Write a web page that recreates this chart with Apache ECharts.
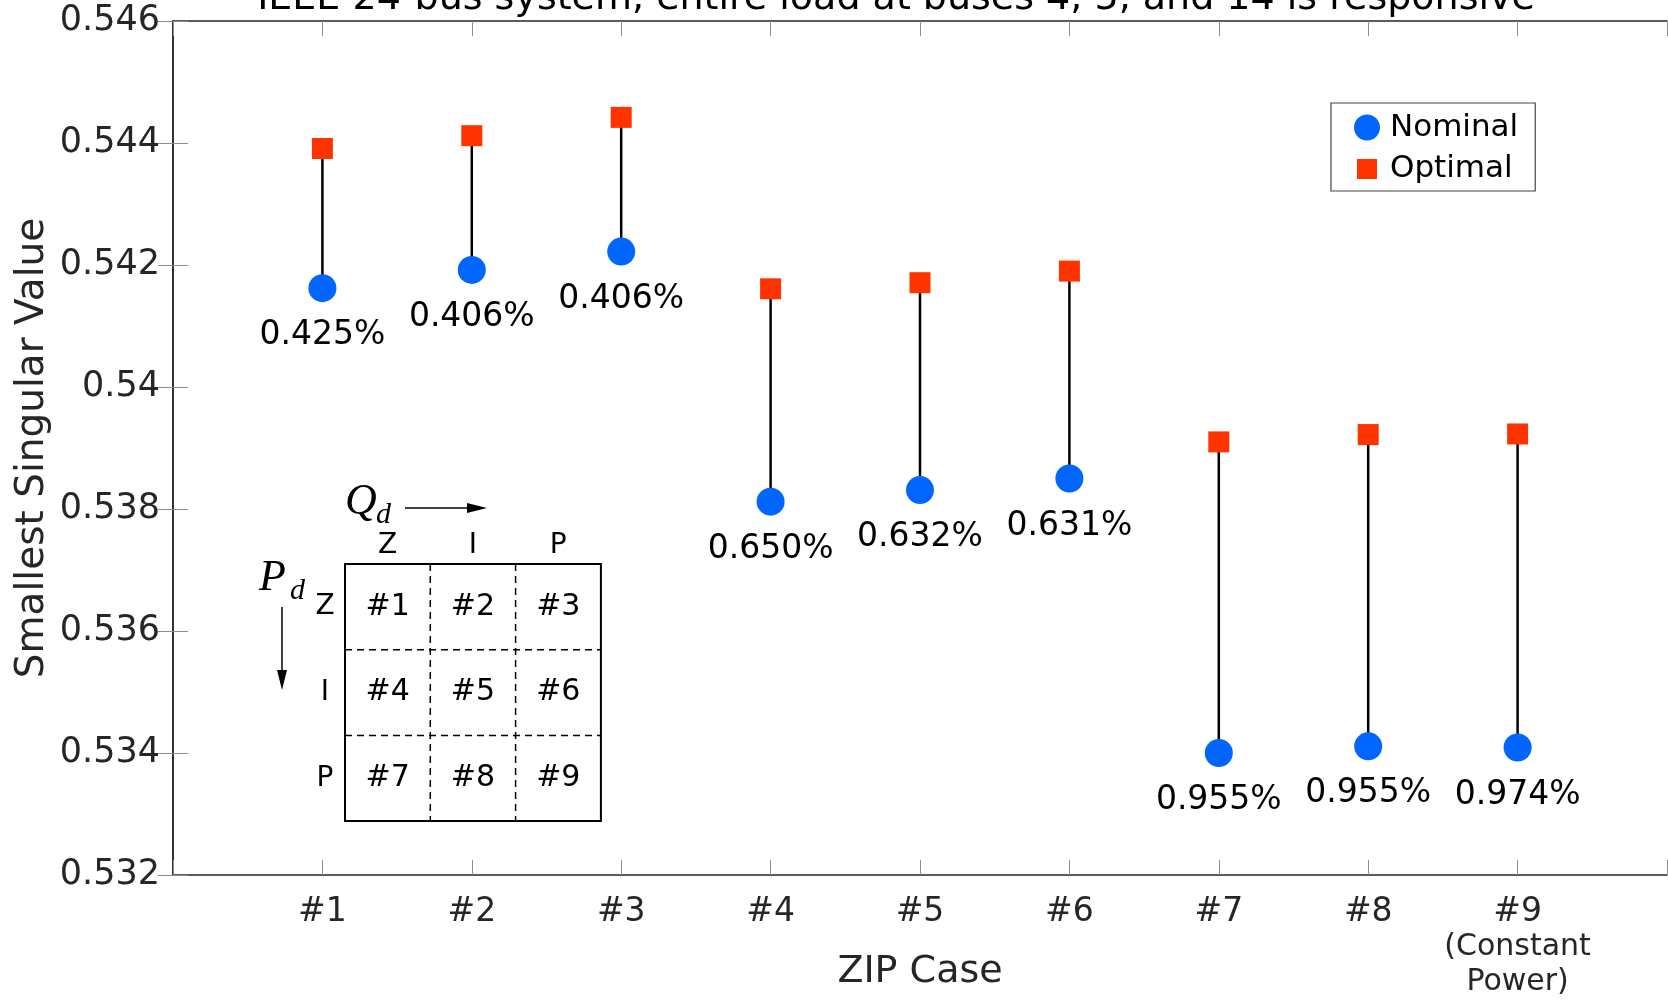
<!DOCTYPE html>
<html>
<head>
<meta charset="utf-8">
<script src="https://cdn.jsdelivr.net/npm/echarts@6/dist/echarts.min.js"></script>
<style>
html,body{margin:0;padding:0;background:#fff;}
#chart{width:1668px;height:1000px;}
</style>
</head>
<body>
<div id="chart"></div>
<script>
const titleText = 'IEEE 24-bus system, entire load at buses 4, 5, and 14 is responsive';
const categories = ['#1', '#2', '#3', '#4', '#5', '#6', '#7', '#8', '#9'];
const categorySubLabels = ['', '', '', '', '', '', '', '', '(Constant\nPower)'];
const nominal = [0.54162, 0.54192, 0.54222, 0.53812, 0.53831, 0.53850, 0.53400, 0.53411, 0.53409];
const optimal = [0.54391, 0.54412, 0.54442, 0.54161, 0.54171, 0.54190, 0.53910, 0.53922, 0.53923];
const pctLabels = ['0.425%', '0.406%', '0.406%', '0.650%', '0.632%', '0.631%', '0.955%', '0.955%', '0.974%'];
const yMin = 0.532, yMax = 0.546, yStep = 0.002;
const insetCols = ['Z', 'I', 'P'];
const insetRows = ['Z', 'I', 'P'];

const FONT = '"DejaVu Sans", sans-serif';
const BLUE = '#0066ff';
const RED = '#ff3300';
const AXIS = '#262626';

const chart = echarts.init(document.getElementById('chart'));

const stemData = categories.map((c, i) => [i + 1, nominal[i], optimal[i]]);
const nomData = categories.map((c, i) => [i + 1, nominal[i]]);
const optData = categories.map((c, i) => [i + 1, optimal[i]]);

// Inset diagram geometry (annotation, pixel based)
const bx = 345, by = 564, cw = 85.3, ch = 85.7;
const inset = [];
inset.push({type: 'rect', shape: {x: bx, y: by, width: cw * 3, height: ch * 3},
  style: {fill: 'none', stroke: '#000', lineWidth: 2}, z: 50});
for (let k = 1; k < 3; k++) {
  inset.push({type: 'line', shape: {x1: bx + cw * k, y1: by, x2: bx + cw * k, y2: by + ch * 3},
    style: {stroke: '#000', lineWidth: 1.5, lineDash: [7, 5]}, z: 50});
  inset.push({type: 'line', shape: {x1: bx, y1: by + ch * k, x2: bx + cw * 3, y2: by + ch * k},
    style: {stroke: '#000', lineWidth: 1.5, lineDash: [7, 5]}, z: 50});
}
for (let r = 0; r < 3; r++) {
  for (let c = 0; c < 3; c++) {
    inset.push({type: 'text', x: bx + cw * (c + 0.5), y: by + ch * (r + 0.5),
      style: {text: categories[r * 3 + c], font: '30px ' + FONT, fill: '#000', align: 'center', verticalAlign: 'middle'}, z: 51});
  }
}
insetCols.forEach((t, c) => inset.push({type: 'text', x: bx + cw * (c + 0.5), y: 546,
  style: {text: t, font: '28px ' + FONT, fill: '#000', align: 'center', verticalAlign: 'middle'}, z: 51}));
insetRows.forEach((t, r) => inset.push({type: 'text', x: 325, y: by + ch * (r + 0.5),
  style: {text: t, font: '28px ' + FONT, fill: '#000', align: 'center', verticalAlign: 'middle'}, z: 51}));
// Q_d label and arrow
inset.push({type: 'text', x: 345, y: 524, style: {text: 'Q', font: 'italic 44px "Liberation Serif", serif', fill: '#000', align: 'left', verticalAlign: 'bottom'}, z: 51});
inset.push({type: 'text', x: 376, y: 530, style: {text: 'd', font: 'italic 30px "Liberation Serif", serif', fill: '#000', align: 'left', verticalAlign: 'bottom'}, z: 51});
inset.push({type: 'line', shape: {x1: 405, y1: 508, x2: 470, y2: 508}, style: {stroke: '#000', lineWidth: 1.5}, z: 51});
inset.push({type: 'polygon', shape: {points: [[467, 503], [487, 508], [467, 513]]}, style: {fill: '#000'}, z: 51});
// P_d label and arrow
inset.push({type: 'text', x: 259, y: 600, style: {text: 'P', font: 'italic 44px "Liberation Serif", serif', fill: '#000', align: 'left', verticalAlign: 'bottom'}, z: 51});
inset.push({type: 'text', x: 290, y: 606, style: {text: 'd', font: 'italic 30px "Liberation Serif", serif', fill: '#000', align: 'left', verticalAlign: 'bottom'}, z: 51});
inset.push({type: 'line', shape: {x1: 282, y1: 607, x2: 282, y2: 673}, style: {stroke: '#000', lineWidth: 1.5}, z: 51});
inset.push({type: 'polygon', shape: {points: [[277, 670], [282, 690], [287, 670]]}, style: {fill: '#000'}, z: 51});
// Title (partly cut off at the top as in the reference)
inset.push({type: 'text', x: 896, y: 18, style: {text: titleText, font: '38px ' + FONT, fill: '#000', align: 'center', verticalAlign: 'bottom'}, z: 60});

const tickStyle = {show: true, inside: true, length: 15, lineStyle: {color: '#8c8c8c', width: 1}};
const lineStyleAxis = {show: true, lineStyle: {color: AXIS, width: 1.5}};

const option = {
  backgroundColor: '#fff',
  animation: false,
  grid: {left: 173, top: 21, right: 1, bottom: 125, containLabel: false, outerBoundsMode: 'none'},
  xAxis: [{
    type: 'value', min: 0, max: 10, interval: 1, position: 'bottom',
    name: 'ZIP Case', nameLocation: 'middle', nameGap: 78, nameMoveOverlap: false,
    nameTextStyle: {fontSize: 38, color: AXIS, fontFamily: FONT},
    axisLine: lineStyleAxis, axisTick: tickStyle, splitLine: {show: false},
    axisLabel: {
      margin: 19, color: AXIS, fontFamily: FONT, fontSize: 33,
      formatter: function (v) {
        const i = Math.round(v) - 1;
        if (i < 0 || i >= categories.length) return '';
        if (categorySubLabels[i]) return '{a|' + categories[i] + '}\n{b|' + categorySubLabels[i].split('\n').join('}\n{b|') + '}';
        return '{a|' + categories[i] + '}';
      },
      rich: {
        a: {fontSize: 33, fontFamily: FONT, color: AXIS, lineHeight: 36},
        b: {fontSize: 30, fontFamily: FONT, color: AXIS, lineHeight: 35}
      }
    }
  }, {
    type: 'value', min: 0, max: 10, interval: 1, position: 'top',
    axisLine: lineStyleAxis, axisTick: tickStyle, axisLabel: {show: false}, splitLine: {show: false}
  }],
  yAxis: [{
    type: 'value', min: yMin, max: yMax, interval: yStep, position: 'left',
    name: 'Smallest Singular Value', nameLocation: 'middle', nameGap: 121, nameRotate: 90, nameMoveOverlap: false,
    nameTextStyle: {fontSize: 39, color: AXIS, fontFamily: FONT},
    axisLine: lineStyleAxis, axisTick: tickStyle, splitLine: {show: false},
    axisLabel: {margin: 13, color: AXIS, fontFamily: FONT, fontSize: 35,
      formatter: function (v) { return String(parseFloat(v.toFixed(3))); }}
  }, {
    type: 'value', min: yMin, max: yMax, interval: yStep, position: 'right',
    axisLine: lineStyleAxis, axisTick: tickStyle, axisLabel: {show: false}, splitLine: {show: false}
  }],
  legend: {
    orient: 'vertical', left: 1331, top: 103,
    padding: [9, 17, 6, 20], itemGap: 10, itemWidth: 26, itemHeight: 26,
    backgroundColor: '#fff', borderColor: '#444', borderWidth: 1.2,
    textStyle: {fontSize: 31, color: '#000', fontFamily: FONT, padding: [0, 0, 0, 5]},
    data: [
      {name: 'Nominal', icon: 'circle'},
      {name: 'Optimal', icon: 'rect', itemStyle: {borderColor: '#fff', borderWidth: 6}}
    ]
  },
  series: [{
    type: 'custom', name: 'stem', silent: true, z: 1,
    data: stemData,
    renderItem: function (params, api) {
      const p1 = api.coord([api.value(0), api.value(1)]);
      const p2 = api.coord([api.value(0), api.value(2)]);
      return {type: 'line', shape: {x1: p1[0], y1: p1[1], x2: p2[0], y2: p2[1]},
        style: {stroke: '#000', lineWidth: 2.5}};
    }
  }, {
    type: 'scatter', name: 'Nominal', symbol: 'circle', symbolSize: 28, z: 3,
    itemStyle: {color: BLUE, opacity: 1},
    data: nomData,
    label: {show: true, position: 'bottom', distance: 17, fontSize: 33, color: '#000', fontFamily: FONT,
      formatter: function (p) { return pctLabels[p.dataIndex]; }}
  }, {
    type: 'scatter', name: 'Optimal', symbol: 'rect', symbolSize: 21, z: 3,
    itemStyle: {color: RED, opacity: 1},
    data: optData
  }],
  graphic: {elements: inset}
};
chart.setOption(option);
</script>
</body>
</html>
